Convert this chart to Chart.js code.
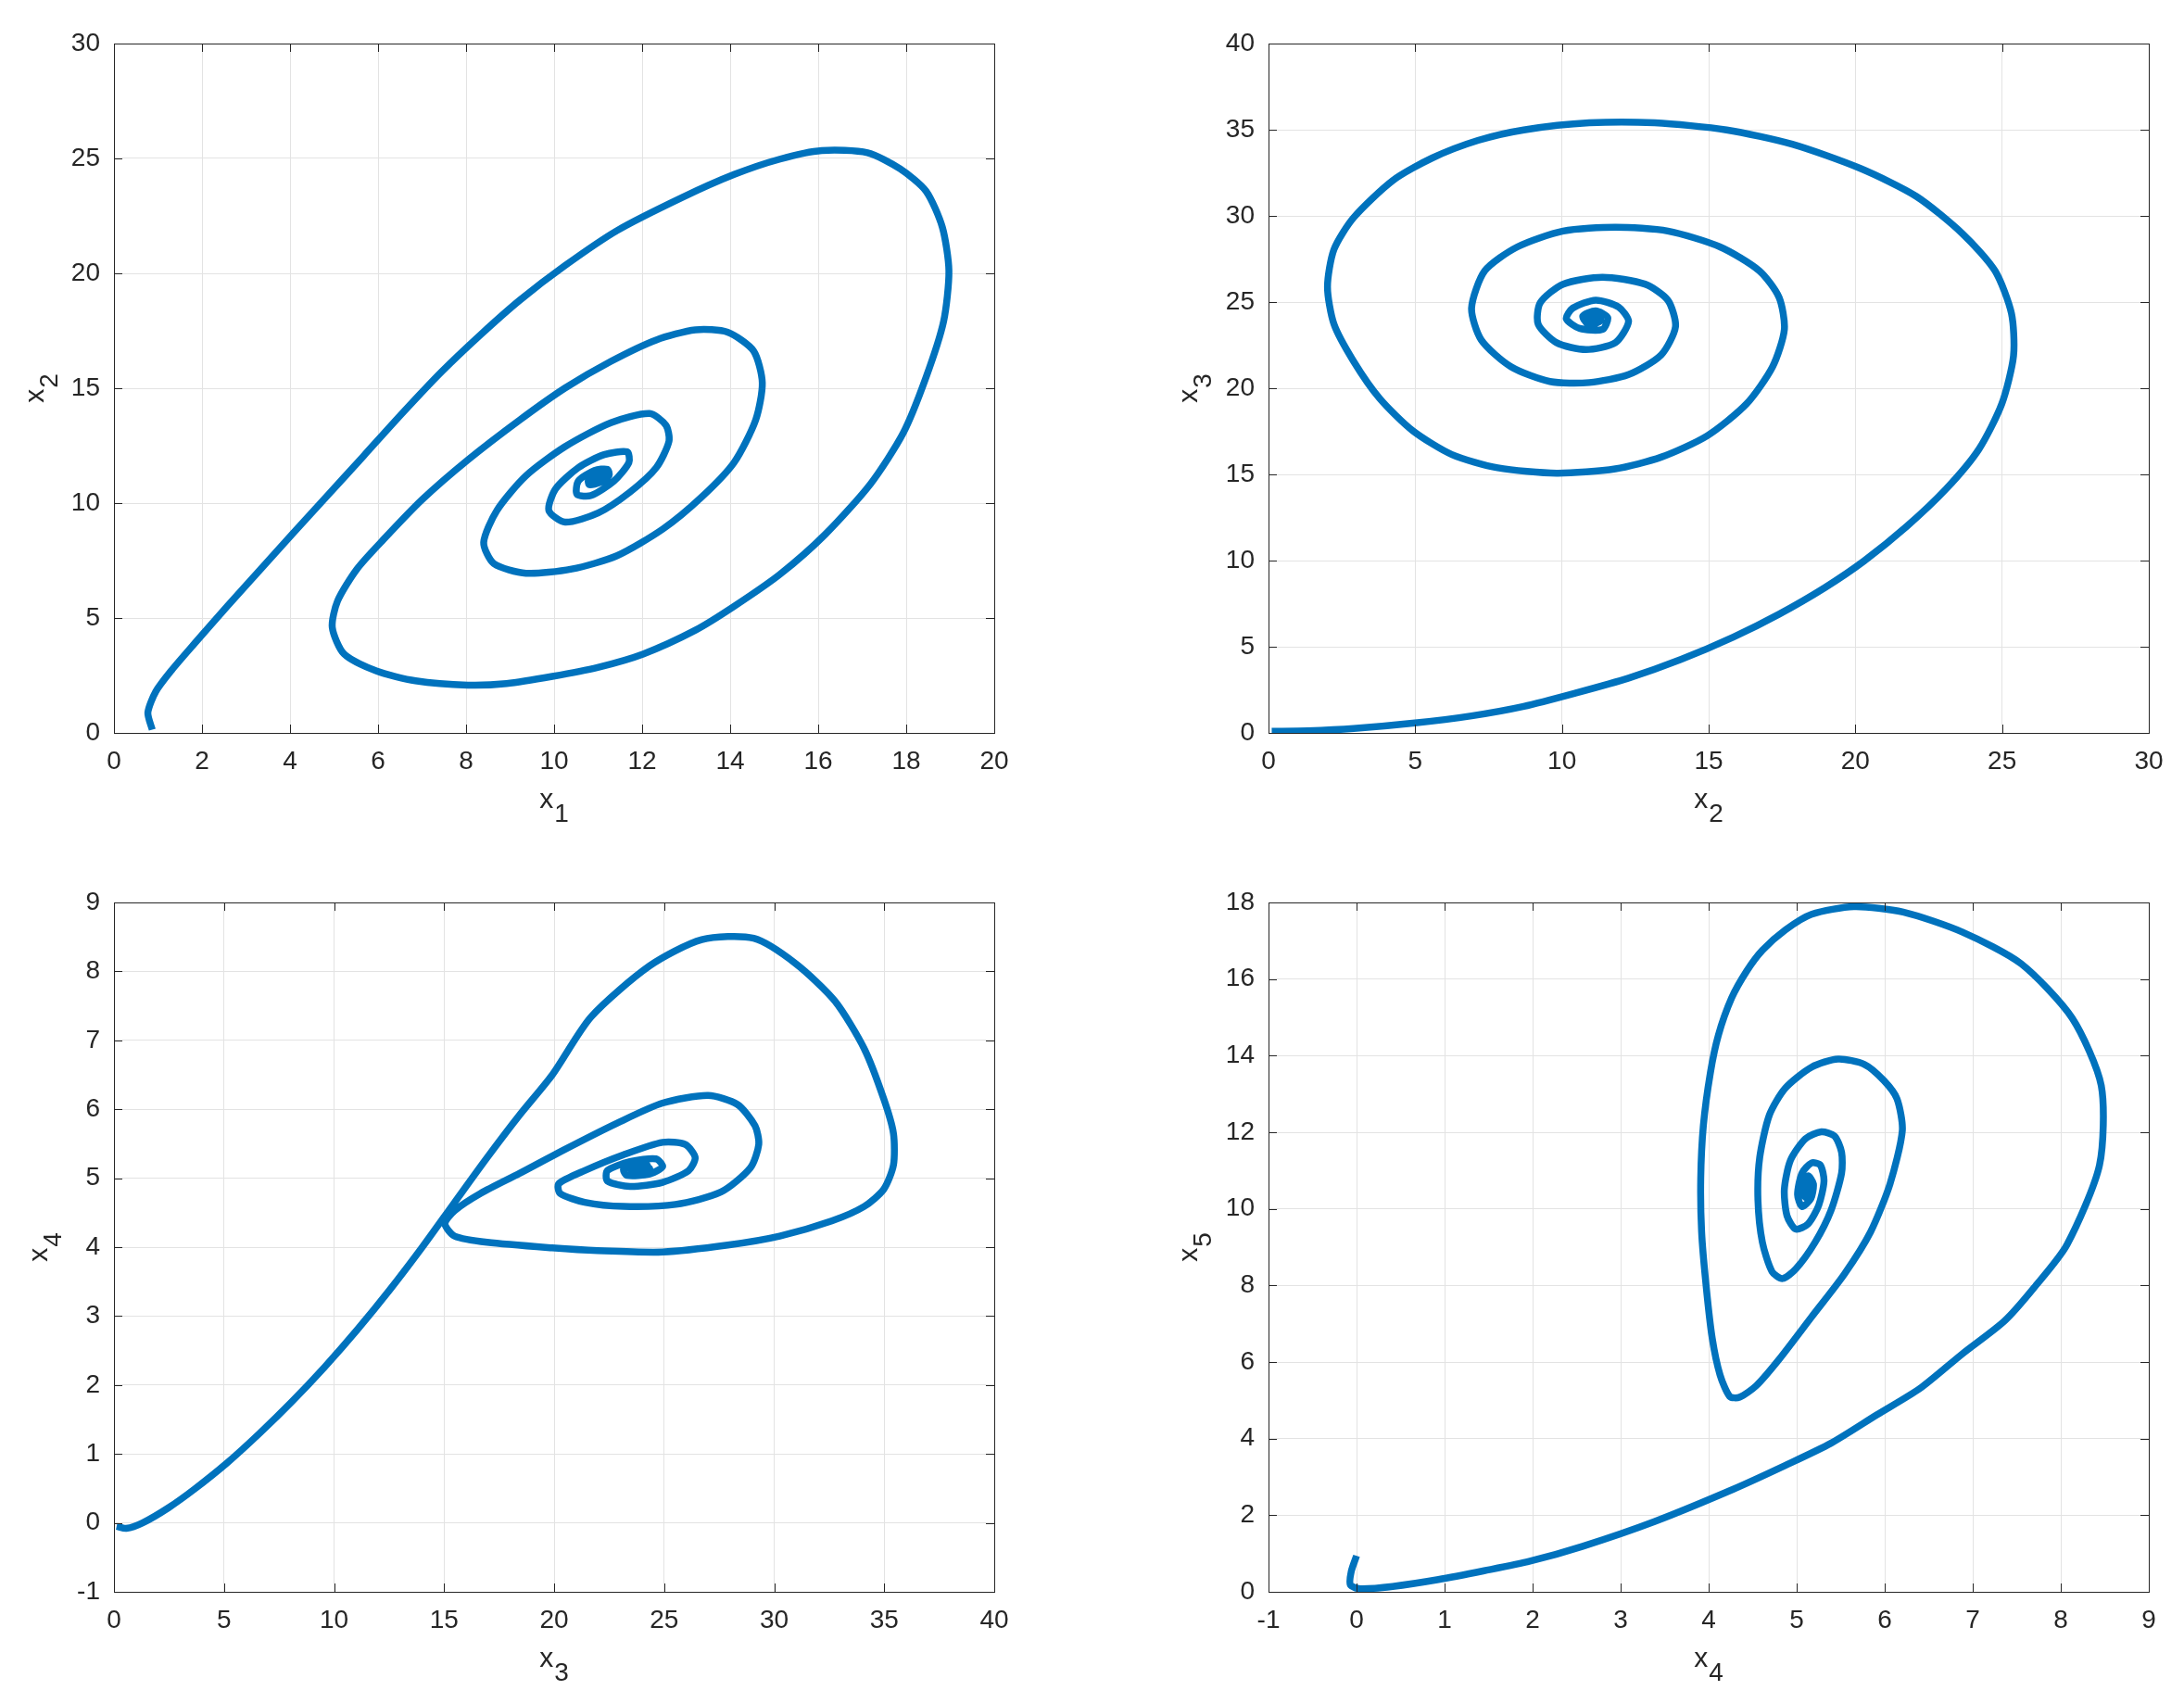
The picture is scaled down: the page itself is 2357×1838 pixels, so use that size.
<!DOCTYPE html>
<html>
<head>
<meta charset="utf-8">
<script src="https://cdn.jsdelivr.net/npm/chart.js@4/dist/chart.umd.min.js"></script>
<style>
html,body{margin:0;padding:0;background:#fff;}
#wrap{position:relative;width:2357px;height:1838px;overflow:hidden;background:#fff;}
canvas{position:absolute;}
</style>
</head>
<body>
<div id="wrap">
<canvas id="c1" width="1178" height="919" style="left:0px;top:0px"></canvas>
<canvas id="c2" width="1179" height="919" style="left:1178px;top:0px"></canvas>
<canvas id="c3" width="1178" height="919" style="left:0px;top:919px"></canvas>
<canvas id="c4" width="1179" height="919" style="left:1178px;top:919px"></canvas>
</div>
<script>
// ---- Plot 1: x1 vs x2 ----
const p1X = [0.87,0.77,0.95,1.31,1.83,2.57,3.31,4.05,4.79,5.67,6.56,7.44,8.33,9.22,10.25,11.43,12.91,14.09,15.13,16.08,17.12,17.86,18.45,18.82,18.97,18.85,18.45,17.93,17.19,16.16,15.13,14.09,13.21,12.02,10.99,9.96,8.92,8.04,6.85,5.97,5.23,4.96,5.08,5.52,6.12,7.00,8.04,9.22,10.25,11.29,12.32,13.21,13.94,14.53,14.73,14.58,14.09,13.35,12.47,11.43,10.40,9.36,8.63,8.40,8.70,9.36,10.25,11.29,12.17,12.54,12.61,12.32,11.73,11.00,10.25,9.88,10.03,10.55,11.14,11.66,11.70,11.36,10.84,10.52,10.55,10.92,11.21,11.25,11.05,10.80,10.78,10.95,11.15,11.20,11.05,10.90,10.95,11.05,11.00];
const p1Y = [0.14,0.88,1.80,2.73,3.89,5.50,7.08,8.65,10.20,12.05,13.93,15.71,17.33,18.83,20.34,21.86,23.30,24.30,24.97,25.34,25.25,24.55,23.58,22.01,20.11,17.91,15.47,13.04,10.84,8.64,6.90,5.51,4.47,3.43,2.85,2.46,2.15,2.08,2.27,2.69,3.43,4.59,5.74,7.13,8.41,10.15,11.88,13.62,15.01,16.17,17.10,17.54,17.44,16.63,15.24,13.62,11.77,10.26,8.87,7.71,7.13,6.95,7.37,8.29,9.68,11.19,12.46,13.50,13.90,13.39,12.69,11.54,10.49,9.57,9.17,9.68,10.61,11.54,12.11,12.23,11.77,10.96,10.33,10.38,10.96,11.42,11.47,11.20,10.90,10.80,11.00,11.25,11.30,11.10,10.95,10.95,11.10,11.10,11.00];
const p1XTicks = [0,2,4,6,8,10,12,14,16,18,20];
const p1YTicks = [0,5,10,15,20,25,30];

// ---- Plot 2: x2 vs x3 ----
const p2X = [0.11,1.34,2.90,4.91,6.92,8.70,10.48,12.27,14.05,15.84,17.40,18.96,20.30,21.75,23.09,24.21,24.99,25.39,25.32,24.76,23.65,22.08,20.19,17.85,15.61,13.16,10.93,8.70,7.14,5.58,4.24,2.90,2.23,2.01,2.23,2.90,3.79,4.91,6.25,7.81,9.82,11.82,13.38,14.95,16.29,17.18,17.58,17.40,16.73,15.39,13.61,11.82,10.04,8.48,7.37,6.92,7.25,8.26,9.59,10.93,12.27,13.38,13.87,13.61,12.83,11.38,10.04,9.26,9.19,9.82,10.82,11.82,12.27,11.93,11.15,10.37,10.15,10.60,11.38,11.56,11.15,10.71,10.93,11.33,11.20,10.85,10.85,11.15,11.15,10.95,10.95,11.05,11.00];
const p2Y = [0.09,0.12,0.25,0.56,0.99,1.54,2.32,3.18,4.26,5.56,6.89,8.43,9.98,11.98,14.15,16.46,19.09,21.87,24.34,26.81,28.97,31.13,32.74,34.16,34.99,35.40,35.40,34.99,34.38,33.36,32.06,29.90,28.05,25.88,23.72,21.56,19.40,17.54,16.15,15.38,15.07,15.32,16.00,17.24,19.09,21.25,23.41,25.27,26.81,28.20,29.12,29.34,29.12,28.20,26.81,24.65,22.80,21.25,20.39,20.33,20.79,21.93,23.57,25.11,26.04,26.44,26.04,24.96,23.72,22.64,22.24,22.64,23.87,24.71,25.11,24.65,24.03,23.47,23.41,24.10,24.49,24.19,23.66,23.94,24.20,24.15,23.85,23.80,24.10,24.10,23.92,23.95,24.00];
const p2XTicks = [0,5,10,15,20,25,30];
const p2YTicks = [0,5,10,15,20,25,30,35,40];

// ---- Plot 3: x3 vs x4 ----
const p3X = [0.12,0.56,1.30,2.48,3.66,5.14,6.62,8.09,9.57,11.05,12.53,14.01,15.48,16.96,18.44,19.92,21.68,24.34,26.71,29.07,30.99,32.76,34.09,34.98,35.42,35.42,34.98,34.09,32.61,30.25,27.89,24.93,21.98,19.91,16.96,15.48,15.04,15.48,16.66,18.43,20.50,22.87,24.93,27.00,28.33,29.13,29.30,28.92,27.59,25.52,23.16,21.39,20.27,20.21,21.39,23.16,24.93,25.96,26.41,26.11,24.93,23.45,22.42,22.42,23.45,24.63,24.93,24.34,23.31,23.16,23.90,24.34,23.75,23.50,23.60,23.80,24.20,24.30,24.00,23.70,23.85,24.10,24.00];
const p3Y = [-0.05,-0.08,0.00,0.22,0.49,0.87,1.30,1.76,2.26,2.80,3.38,4.00,4.65,5.30,5.92,6.50,7.34,8.08,8.46,8.48,8.11,7.57,6.88,6.15,5.65,5.19,4.84,4.59,4.38,4.16,4.03,3.93,3.95,3.99,4.07,4.16,4.34,4.53,4.78,5.07,5.42,5.80,6.09,6.20,6.07,5.76,5.49,5.15,4.80,4.62,4.59,4.65,4.78,4.92,5.11,5.34,5.52,5.49,5.30,5.11,4.94,4.88,4.96,5.11,5.24,5.28,5.17,5.06,5.04,5.13,5.20,5.14,5.10,5.08,5.15,5.22,5.20,5.12,5.08,5.12,5.18,5.15,5.13];
const p3XTicks = [0,5,10,15,20,25,30,35,40];
const p3YTicks = [-1,0,1,2,3,4,5,6,7,8,9];

// ---- Plot 4: x4 vs x5 ----
const p4X = [0.00,-0.06,-0.07,0.04,0.41,0.93,1.45,1.97,2.57,3.39,4.28,4.87,5.39,5.91,6.40,6.88,7.36,7.70,8.07,8.44,8.46,8.13,7.55,6.88,6.21,5.65,5.17,4.87,4.61,4.43,4.26,4.11,4.02,3.94,3.91,3.92,3.97,4.04,4.13,4.24,4.35,4.54,4.80,5.17,5.54,5.84,6.06,6.20,6.14,5.99,5.77,5.47,5.17,4.87,4.69,4.58,4.56,4.61,4.72,4.84,4.99,5.21,5.39,5.51,5.51,5.43,5.28,5.10,4.93,4.86,4.89,4.99,5.13,5.25,5.31,5.27,5.17,5.06,5.01,5.06,5.16,5.19,5.13,5.08,5.13,5.11,5.15,5.10,5.06,5.10,5.16,5.15,5.10,5.10,5.12];
const p4Y = [0.94,0.53,0.18,0.08,0.14,0.32,0.55,0.80,1.19,1.84,2.68,3.30,3.88,4.62,5.31,6.21,7.07,7.95,9.06,11.14,13.22,14.98,16.40,17.23,17.75,17.89,17.69,17.28,16.75,16.20,15.50,14.53,13.56,12.18,10.79,9.40,8.02,6.63,5.66,5.10,5.08,5.38,6.07,7.18,8.29,9.40,10.65,12.04,12.87,13.35,13.77,13.91,13.70,13.15,12.45,11.34,10.23,9.13,8.36,8.18,8.43,9.13,9.96,10.93,11.48,11.90,12.01,11.83,11.27,10.51,9.82,9.47,9.61,10.09,10.72,11.14,11.20,10.93,10.37,10.06,10.26,10.65,10.86,10.58,10.44,10.65,10.40,10.30,10.50,10.80,10.70,10.45,10.45,10.65,10.55];
const p4XTicks = [-1,0,1,2,3,4,5,6,7,8,9];
const p4YTicks = [0,2,4,6,8,10,12,14,16,18];

const FONT = '"Liberation Sans", Arial, Helvetica, sans-serif';
const TXT = '#262626';
const LINE = '#0072BD';

const framePlugin = {
  id: 'frame',
  afterDraw(chart, args, o) {
    const {ctx, chartArea: a, scales: {x, y}} = chart;
    ctx.save();
    ctx.strokeStyle = TXT;
    ctx.lineWidth = 1;
    const tl = 9;
    ctx.beginPath();
    x.ticks.forEach(t => {
      const px = Math.round(x.getPixelForValue(t.value)) + 0.5;
      ctx.moveTo(px, a.top); ctx.lineTo(px, a.top + tl);
      ctx.moveTo(px, a.bottom); ctx.lineTo(px, a.bottom - tl);
    });
    y.ticks.forEach(t => {
      const py = Math.round(y.getPixelForValue(t.value)) + 0.5;
      ctx.moveTo(a.left, py); ctx.lineTo(a.left + tl, py);
      ctx.moveTo(a.right, py); ctx.lineTo(a.right - tl, py);
    });
    ctx.stroke();
    ctx.strokeRect(Math.round(a.left) + 0.5, Math.round(a.top) + 0.5, Math.round(a.width), Math.round(a.height));

    // axis titles with subscripts
    const mainFont = '30px ' + FONT;
    const subFont = '28px ' + FONT;
    ctx.fillStyle = TXT;
    ctx.textBaseline = 'alphabetic';
    ctx.textAlign = 'left';
    function drawSub(main, sub, cx, by) {
      ctx.font = mainFont; const wm = ctx.measureText(main).width;
      ctx.font = subFont; const ws = ctx.measureText(sub).width;
      const sx = cx - (wm + 1 + ws) / 2;
      ctx.font = mainFont; ctx.fillText(main, sx, by);
      ctx.font = subFont; ctx.fillText(sub, sx + wm + 1, by + 15);
    }
    drawSub(o.xMain, o.xSub, (a.left + a.right) / 2, a.bottom + 81);
    ctx.save();
    ctx.translate(a.left - o.yOff, (a.top + a.bottom) / 2);
    ctx.rotate(-Math.PI / 2);
    drawSub(o.yMain, o.ySub, 0, 0);
    ctx.restore();
    ctx.restore();
  }
};

function makeChart(id, xs, ys, xTicks, yTicks, pad, xAxisH, titles) {
  const pts = xs.map((v, i) => ({x: v, y: ys[i]}));
  const tickFont = {family: FONT, size: 28};
  return new Chart(document.getElementById(id), {
    type: 'scatter',
    data: {datasets: [{
      data: pts, showLine: true, borderColor: LINE, borderWidth: 7.5,
      pointRadius: 0, tension: 0.25, fill: false,
      borderJoinStyle: 'round', borderCapStyle: 'butt'
    }]},
    options: {
      responsive: false, animation: false, devicePixelRatio: 1, events: [],
      layout: {padding: pad},
      plugins: {legend: {display: false}, tooltip: {enabled: false}, frame: titles},
      scales: {
        x: {
          type: 'linear', min: xTicks[0], max: xTicks[xTicks.length - 1],
          afterBuildTicks: s => { s.ticks = xTicks.map(v => ({value: v})); },
          afterFit: s => { s.height = xAxisH; },
          grid: {color: '#e3e3e3', lineWidth: 1, drawTicks: false},
          border: {display: false},
          ticks: {font: tickFont, color: TXT, padding: 14, maxRotation: 0, autoSkip: false}
        },
        y: {
          type: 'linear', min: yTicks[0], max: yTicks[yTicks.length - 1],
          afterBuildTicks: s => { s.ticks = yTicks.map(v => ({value: v})); },
          afterFit: s => { s.width = 123; },
          grid: {color: '#e3e3e3', lineWidth: 1, drawTicks: false},
          border: {display: false},
          ticks: {font: tickFont, color: TXT, padding: 15, autoSkip: false}
        }
      }
    },
    plugins: [framePlugin]
  });
}

makeChart('c1', p1X, p1Y, p1XTicks, p1YTicks, {left: 0, top: 47, right: 105, bottom: 0}, 128,
  {xMain: 'x', xSub: '1', yMain: 'x', ySub: '2', yOff: 76});
makeChart('c2', p2X, p2Y, p2XTicks, p2YTicks, {left: 68, top: 47, right: 38, bottom: 0}, 128,
  {xMain: 'x', xSub: '2', yMain: 'x', ySub: '3', yOff: 77});
makeChart('c3', p3X, p3Y, p3XTicks, p3YTicks, {left: 0, top: 55, right: 105, bottom: 0}, 120,
  {xMain: 'x', xSub: '3', yMain: 'x', ySub: '4', yOff: 72});
makeChart('c4', p4X, p4Y, p4XTicks, p4YTicks, {left: 68, top: 55, right: 38, bottom: 0}, 120,
  {xMain: 'x', xSub: '4', yMain: 'x', ySub: '5', yOff: 77});
</script>
</body>
</html>
